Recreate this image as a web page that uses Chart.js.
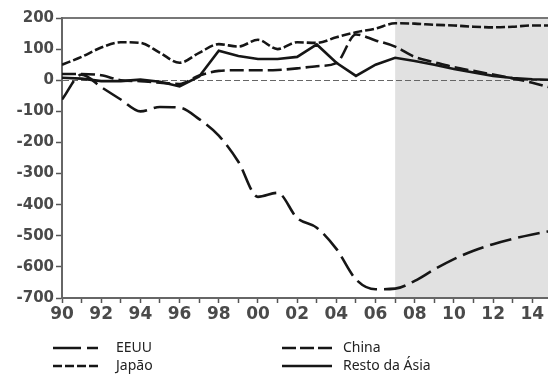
<!DOCTYPE html>
<html>
<head>
<meta charset="utf-8">
<script src="https://cdn.jsdelivr.net/npm/chart.js@4/dist/chart.umd.min.js"></script>
<style>
  html, body { margin: 0; padding: 0; background: #fff; }
  #wrap { width: 548px; height: 375px; position: relative; }
</style>
</head>
<body>
<div id="wrap"><canvas id="chart"></canvas></div>
<script>
// annual values, 1990-2015
const years = [1990, 1991, 1992, 1993, 1994, 1995, 1996, 1997, 1998, 1999, 2000, 2001, 2002,
               2003, 2004, 2005, 2006, 2007, 2008, 2009, 2010, 2011, 2012, 2013, 2014, 2015]
const eeuu = [-62, 18, -22, -62, -100, -86, -88, -125, -178, -262, -375, -362, -443,
              -474, -542, -640, -672, -670, -645, -608, -575, -548, -527, -510, -496, -484]
const japao = [50, 75, 105, 122, 120, 88, 56, 88, 116, 108, 130, 100, 122,
               120, 138, 154, 166, 183, 182, 178, 176, 172, 170, 172, 176, 176]
const china = [20, 20, 16, 0, -3, -8, -12, 15, 30, 32, 32, 33, 38,
               45, 55, 147, 128, 108, 75, 58, 42, 30, 18, 6, -8, -25]
const restoAsia = [8, 5, -3, -3, 2, -5, -20, 12, 95, 78, 68, 68, 75,
                   115, 56, 14, 50, 72, 62, 50, 36, 25, 14, 7, 3, 1]

// shaded (projection) period and the last visible year
const shadeFrom = 2007
const xLimit = 2014.8

const canvas = document.querySelector('#chart')

function pairs(values) {
    return values.map((v, i) => ({ x: years[i], y: v }))
}

// grey band + top frame line
const backdrop = {
    id: 'backdrop',
    beforeDraw(chart) {
        const { ctx, chartArea: a, scales: { x } } = chart
        const left = x.getPixelForValue(shadeFrom)
        ctx.save()
        ctx.fillStyle = '#e1e1e1'
        ctx.fillRect(left, a.top, a.right - left, a.bottom - a.top)
        ctx.strokeStyle = '#777'
        ctx.lineWidth = 2
        ctx.beginPath()
        ctx.moveTo(a.left, a.top)
        ctx.lineTo(a.right, a.top)
        ctx.stroke()
        ctx.restore()
    }
}

// two-column legend under the axis
const sideLegend = {
    id: 'sideLegend',
    afterDraw(chart) {
        const ctx = chart.ctx
        const cols = [53, 282]
        const textAt = [116, 343]
        const rows = [348, 366]
        chart.data.datasets.forEach((ds, i) => {
            const c = Math.floor(i / 2)
            const y = rows[i % 2]
            const len = c === 0 ? 45 : 50
            ctx.save()
            ctx.strokeStyle = ds.borderColor
            ctx.lineWidth = 2.5
            ctx.setLineDash(ds.legendDash)
            ctx.beginPath()
            ctx.moveTo(cols[c], y)
            ctx.lineTo(cols[c] + len, y)
            ctx.stroke()
            ctx.setLineDash([])
            ctx.fillStyle = '#222'
            ctx.font = '14px "Noto Sans"'
            ctx.textBaseline = 'middle'
            ctx.fillText(ds.label, textAt[c], y)
            ctx.restore()
        })
    }
}

new Chart(canvas, {
    type: 'line',
    data: {
        datasets: [
            { label: 'EEUU', data: pairs(eeuu), borderDash: [22, 7], legendDash: [28, 6], cubicInterpolationMode: 'monotone' },
            { label: 'Japão', data: pairs(japao), borderDash: [9, 3], legendDash: [9, 3], cubicInterpolationMode: 'monotone' },
            { label: 'China', data: pairs(china), borderDash: [14, 5], legendDash: [14, 4], cubicInterpolationMode: 'monotone' },
            { label: 'Resto da Ásia', data: pairs(restoAsia), borderDash: [], legendDash: [], tension: 0 }
        ].map(ds => Object.assign({
            borderColor: '#161616',
            borderWidth: 2.6,
            pointRadius: 0,
            fill: false
        }, ds))
    },
    options: {
        responsive: true,
        maintainAspectRatio: false,
        animation: false,
        layout: { padding: { top: 18, right: 0, bottom: 52, left: 0 } },
        plugins: { legend: { display: false }, tooltip: { enabled: false } },
        scales: {
            x: {
                type: 'linear',
                min: 1990,
                max: xLimit,
                afterFit: s => { s.height = 25 },
                grid: { display: true, drawOnChartArea: false, drawTicks: true, tickLength: 5, tickColor: '#555', tickWidth: 1.5 },
                border: { display: true, color: '#666', width: 2 },
                ticks: {
                    stepSize: 1,
                    includeBounds: false,
                    autoSkip: false,
                    maxRotation: 0,
                    padding: 1,
                    color: '#4a4a4a',
                    font: { family: 'DejaVu Sans', size: 17, weight: 'bold' },
                    callback: v => v % 2 === 0 ? String(v).slice(2) : ''
                }
            },
            y: {
                min: -700,
                max: 200,
                afterFit: s => { s.width = 62 },
                grid: {
                    color: c => c.tick && c.tick.value === 0 ? '#666' : 'rgba(0,0,0,0)',
                    lineWidth: 1,
                    tickColor: '#555',
                    tickLength: 6,
                    tickWidth: 1.5
                },
                border: { display: true, color: '#666', width: 2, dash: [6, 3] },
                ticks: { stepSize: 100, padding: 2, color: '#4a4a4a', font: { family: 'DejaVu Sans', size: 15, weight: 'bold' } }
            }
        }
    },
    plugins: [backdrop, sideLegend]
})
</script>
</body>
</html>
